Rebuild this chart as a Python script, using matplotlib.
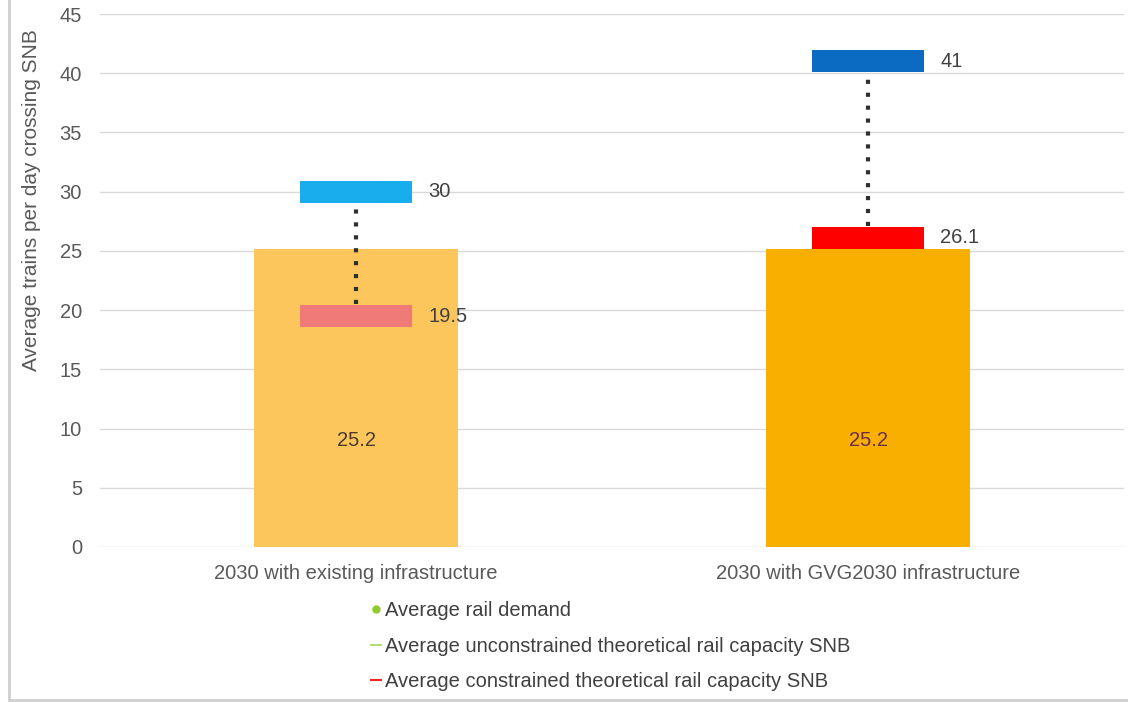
import matplotlib
matplotlib.use("Agg")
import matplotlib.pyplot as plt
from matplotlib.lines import Line2D

plt.rcParams['font.family'] = ['Liberation Sans', 'DejaVu Sans']

categories = ["2030 with existing infrastructure", "2030 with GVG2030 infrastructure"]
demand = [25.2, 25.2]
unconstrained = [30, 41]
constrained = [19.5, 26.1]
y_ticks = [0, 5, 10, 15, 20, 25, 30, 35, 40, 45]
legend_labels = ["Average rail demand",
                 "Average unconstrained theoretical rail capacity SNB",
                 "Average constrained theoretical rail capacity SNB"]

bar_colors = ["#FDC65C", "#F8AF00"]
unc_colors = ["#19ADEE", "#0B6BC3"]
con_colors = ["#F07A78", "#FF0000"]
demand_label_colors = ["#4a3a30", "#6e2d55"]

FS = 14.5

fig = plt.figure(figsize=(11.28, 7.02), dpi=100)
ax = fig.add_axes([100/1128, 1-547/702, 1024/1128, 533/702])

x = list(range(len(categories)))
ax.bar(x, demand, width=0.4, color=bar_colors, zorder=2)

mh = 1.86  # marker thickness in data units
mw = 0.22
for i in x:
    ax.bar(i, mh, bottom=unconstrained[i]-mh/2, width=mw, color=unc_colors[i], zorder=4)
    ax.bar(i, mh, bottom=constrained[i]-mh/2, width=mw, color=con_colors[i], zorder=4)
    top = max(unconstrained[i], constrained[i]) - mh/2 - 0.1
    bot = min(unconstrained[i], constrained[i]) + mh/2 + 0.1
    ax.plot([i, i], [bot, top], color="#2f2f2f", lw=3.0,
            linestyle=(0, (1.0, 2.1)), dash_capstyle='butt', zorder=5)
    ax.annotate(f"{unconstrained[i]:g}", (i + mw/2, unconstrained[i]),
                xytext=(16, 0), textcoords='offset pixels', ha='left', va='center',
                fontsize=FS, color="#404040", zorder=6)
    ax.annotate(f"{constrained[i]:g}", (i + mw/2, constrained[i]),
                xytext=(16, 0), textcoords='offset pixels', ha='left', va='center',
                fontsize=FS, color="#404040", zorder=6)
    ax.text(i, 9.0, f"{demand[i]:g}", ha='center', va='center',
            fontsize=FS, color=demand_label_colors[i], zorder=6)

ax.set_xlim(-0.5, 1.5)
ax.set_ylim(0, 45)
ax.set_yticks(y_ticks)
ax.set_xticks(x)
ax.set_xticklabels(categories)
ax.tick_params(axis='both', length=0, labelsize=FS, labelcolor="#595959")
ax.tick_params(axis='y', pad=13)
ax.tick_params(axis='x', pad=12)
ax.grid(axis='y', color="#d9d9d9", lw=1.0, zorder=0)
ax.set_axisbelow(True)
for s in ax.spines.values():
    s.set_visible(False)

ax.set_ylabel("Average trains per day crossing SNB", fontsize=15, color="#595959")
ax.yaxis.set_label_coords(-0.058, 0.65)

handles = [
    Line2D([], [], marker='o', color='none', markerfacecolor="#8FCB2A",
           markeredgecolor="#8FCB2A", markersize=5),
    Line2D([], [], color="#B5DA78", lw=1.5),
    Line2D([], [], color="#FF2020", lw=1.5),
]
fig.legend(handles, legend_labels, loc='upper left',
           bbox_to_anchor=(353/1128, 1-583/702), frameon=False,
           handlelength=0.5, handletextpad=0.2, labelspacing=0.82,
           fontsize=FS, labelcolor="#404040")

# figure frame (left and bottom shadow lines)
fig.add_artist(Line2D([9/1128, 9/1128], [2/702, 1.0], transform=fig.transFigure,
                      color="#cfcfcf", lw=2))
fig.add_artist(Line2D([9/1128, 1.0], [2/702, 2/702], transform=fig.transFigure,
                      color="#cfcfcf", lw=2))

fig.savefig("out.png", dpi=100)
